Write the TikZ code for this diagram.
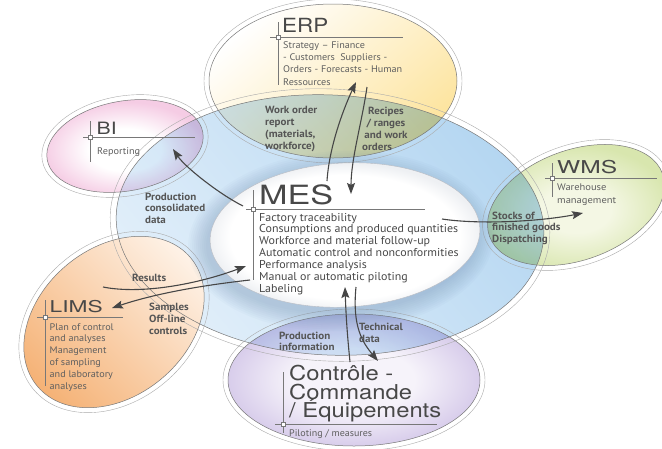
\documentclass[tikz,border=0pt]{standalone}
\usepackage{fontspec}
\usepackage{graphicx}
\setmainfont{PT Sans}
\newfontfamily\ttlfont{TeX Gyre Heros}
\usetikzlibrary{arrows.meta}
\definecolor{arr}{RGB}{70,70,70}
\definecolor{lblc}{RGB}{85,85,85}
\definecolor{txtc}{RGB}{95,95,95}
\definecolor{mestxt}{RGB}{72,72,72}
\definecolor{ttlc}{RGB}{72,72,72}
\definecolor{edgec}{RGB}{120,120,120}
\definecolor{ringc}{RGB}{170,170,170}
\definecolor{bluelt}{RGB}{226,239,250}
\definecolor{bluedk}{RGB}{180,214,241}
\definecolor{ylw}{RGB}{253,228,158}
\definecolor{pinkout}{RGB}{245,204,228}
\definecolor{grnin}{RGB}{244,247,228}
\definecolor{grnout}{RGB}{216,230,174}
\definecolor{orng}{RGB}{245,178,118}
\definecolor{orngl}{RGB}{254,242,231}
\definecolor{lavin}{RGB}{246,243,250}
\definecolor{lavout}{RGB}{216,205,235}
\definecolor{mesout}{RGB}{238,240,243}
\definecolor{shad}{RGB}{110,140,175}
\pgfdeclareradialshading{pinkshade}{\pgfpoint{0bp}{0bp}}{color(0bp)=(white); color(11bp)=(white); color(25bp)=(pinkout); color(50bp)=(pinkout)}
\pgfdeclareradialshading{grnshade}{\pgfpoint{0bp}{0bp}}{color(0bp)=(grnin); color(9bp)=(grnin); color(25bp)=(grnout); color(50bp)=(grnout)}
\pgfdeclareradialshading{lavshade}{\pgfpoint{0bp}{0bp}}{color(0bp)=(lavin); color(12bp)=(lavin); color(25bp)=(lavout); color(50bp)=(lavout)}
\pgfdeclareradialshading{messhade}{\pgfpoint{0bp}{0bp}}{color(0bp)=(white); color(21bp)=(white); color(25bp)=(mesout); color(50bp)=(mesout)}
\newcommand\mesfont{\fontsize{11.4}{12}\selectfont}
\newcommand\lblfont{\fontsize{10.4}{11}\selectfont\bfseries}
\newcommand\bodyfont{\fontsize{9.6}{11}\selectfont}
\newlength\tmpw
\AtBeginDocument{%
\settowidth\tmpw{\mesfont Consumptions and produced quantities}\pgfmathsetmacro\mesk{199/\tmpw}%
\settowidth\tmpw{\lblfont consolidated}\pgfmathsetmacro\lblk{60/\tmpw}%
\settowidth\tmpw{\bodyfont Orders - Forecasts - Human}\pgfmathsetmacro\erpk{119/\tmpw}%
\settowidth\tmpw{\bodyfont Plan of control}\pgfmathsetmacro\limsk{64/\tmpw}%
\settowidth\tmpw{\bodyfont management}\pgfmathsetmacro\wmsk{59/\tmpw}%
\settowidth\tmpw{\ttlfont\fontsize{20.5}{18}\selectfont / Équipements}\pgfmathsetmacro\cck{152/\tmpw}%
}
\begin{document}
\begin{tikzpicture}[x=1pt,y=-1pt,
  edgeline/.style={draw=edgec, line width=0.5pt},
  ringline/.style={draw=ringc, line width=0.4pt},
  flow/.style={draw=arr, line width=1.1pt, -{Stealth[length=11pt,width=8pt,inset=2pt]}},
  lbl/.style={font=\lblfont, text=lblc, inner sep=0pt, anchor=base west},
  bodytext/.style={font=\bodyfont, text=txtc, inner sep=0pt, anchor=base west},
  mesline/.style={font=\mesfont, text=mestxt, inner sep=0pt, anchor=base west},
  ttlstyle/.style={text=ttlc, inner sep=0pt, anchor=base west},
  rulestyle/.style={draw=edgec, line width=0.7pt},
  tickbox/.style={draw=edgec, fill=white, line width=0.5pt, rectangle, minimum size=4pt, inner sep=0pt}]
\useasboundingbox (0,0) rectangle (662,448);
\fill[white] (0,0) rectangle (662,448);

% ---- big blue ellipse
\path[shading=axis, top color=bluedk, bottom color=bluelt, shading angle=-50, rotate around={-3:(330,225)}]
  (330,225) ellipse [x radius=214, y radius=130];

% ---- blended satellites
\begin{scope}[blend mode=multiply]
\path[shading=axis, top color=white, bottom color=ylw, shading angle=40]
  (333,81) ellipse [x radius=124, y radius=77];
\path[shading=pinkshade, rotate around={10:(125,146)}]
  (125,146) ellipse [x radius=79, y radius=45];
\path[shading=grnshade, rotate around={20:(576,205)}]
  (576,205) ellipse [x radius=92, y radius=55];
\path[shading=lavshade]
  (354,380) ellipse [x radius=126, y radius=66];
\end{scope}
% LIMS (opaque)
\path[shading=axis, top color=orngl, bottom color=orng, shading angle=-45, rotate around={40:(114,322)}]
  (114,322) ellipse [x radius=100, y radius=74];

% ---- outlines
\path[edgeline, rotate around={-3:(330,225)}] (330,225) ellipse [x radius=214, y radius=130];
\path[ringline, rotate around={-3:(330,225)}] (330,225) ellipse [x radius=220, y radius=136];
\path[edgeline] (333,81) ellipse [x radius=124, y radius=77];
\path[ringline] (333,81) ellipse [x radius=129, y radius=82];
\path[edgeline, rotate around={10:(125,146)}] (125,146) ellipse [x radius=79, y radius=45];
\path[ringline, rotate around={10:(125,146)}] (125,146) ellipse [x radius=84, y radius=50];
\path[edgeline, rotate around={20:(576,205)}] (576,205) ellipse [x radius=92, y radius=55];
\path[ringline, rotate around={20:(576,205)}] (576,205) ellipse [x radius=97, y radius=60];
\path[edgeline, rotate around={40:(114,322)}] (114,322) ellipse [x radius=100, y radius=74];
\path[ringline, rotate around={40:(114,322)}] (114,322) ellipse [x radius=105, y radius=79];
\path[edgeline] (354,380) ellipse [x radius=126, y radius=66];
\path[ringline] (354,380) ellipse [x radius=131, y radius=71];

% ---- MES shadow and ellipse
\foreach \k in {10,...,1}
  \fill[shad, opacity=0.04, rotate around={3:(341,241)}] (341,241) ellipse [x radius=133+2*\k, y radius=70+2*\k];
\path[shading=messhade, rotate around={3:(345,235)}]
  (345,235) ellipse [x radius=135, y radius=72];
\path[draw={rgb,255:red,185;green,188;blue,195}, line width=0.4pt, rotate around={3:(345,235)}]
  (345,235) ellipse [x radius=135, y radius=72];

% ---- title rules
\draw[rulestyle] (278,22) -- (278,85);
\draw[rulestyle] (270,37) -- (403,37);
\node[tickbox] (erpsq) at (278,37) {};
\draw[rulestyle] (90,121) -- (90,162);
\draw[rulestyle] (83,137) -- (195,137);
\node[tickbox] (bisq) at (90,137) {};
\draw[rulestyle] (552,163) -- (552,197);
\draw[rulestyle] (545,178) -- (657,178);
\node[tickbox] (wmssq) at (552,178) {};
\draw[rulestyle] (45,300) -- (45,386);
\draw[rulestyle] (37,317) -- (123,317);
\node[tickbox] (limssq) at (45,317) {};
\draw[rulestyle] (253,190) -- (253,280);
\draw[rulestyle] (246,209) -- (425,209);
\node[tickbox] (messq) at (253,209) {};
\draw[rulestyle] (283,372) -- (283,433);
\draw[rulestyle] (275,424) -- (437,424);
\node[tickbox] (ccsq) at (283,424) {};

% ---- titles
\node[ttlstyle, font=\ttlfont\fontsize{19.5}{20}\selectfont] (erpt) at (282,32) {\resizebox{46pt}{\height}{ERP}};
\node[ttlstyle, font=\ttlfont\fontsize{17}{18}\selectfont] (bit) at (96.5,134) {\resizebox{20pt}{\height}{BI}};
\node[ttlstyle, font=\ttlfont\fontsize{17.7}{18}\selectfont] (wmst) at (557,173) {\resizebox{60pt}{\height}{WMS}};
\node[ttlstyle, font=\ttlfont\fontsize{16.3}{17}\selectfont] (limst) at (49.5,312) {\resizebox{53pt}{\height}{LIMS}};
\node[ttlstyle, font=\ttlfont\fontsize{26.5}{28}\selectfont] (mest) at (259,204) {\resizebox{74pt}{\height}{MES}};
\node[ttlstyle, anchor=north west, align=left, font={\ttlfont\fontsize{20.5}{18.5}\selectfont\lineskiplimit=-100pt}] (cct) at (289,365)
  {\scalebox{\cck}[1]{Contrôle -}\\\scalebox{\cck}[1]{Commande}\\\scalebox{\cck}[1]{/ Équipements}};

% ---- body texts
\foreach \t [count=\i from 0] in {Strategy – Finance, - Customers~ Suppliers -, Orders - Forecasts - Human, Ressources}
  \node[bodytext, name=erp\i] at (283,48.5+12.2*\i) {\scalebox{\erpk}[1]{\t}};
\node[bodytext] (bib) at (97,154.5) {\resizebox{43pt}{\height}{Reporting}};
\node[bodytext] (wmsb1) at (557,190.5) {\scalebox{\wmsk}[1]{Warehouse}};
\node[bodytext] (wmsb2) at (557,203.5) {\scalebox{\wmsk}[1]{management}};
\foreach \t [count=\i from 0] in {Plan of control, and analyses, Management, of sampling, and laboratory, analyses}
  \node[bodytext, name=lims\i] at (49.5,330+11.9*\i) {\scalebox{\limsk}[1]{\t}};
\node[bodytext] (ccb) at (289,436.5) {\resizebox{83pt}{\height}{Piloting / measures}};
\foreach \t [count=\i from 0] in {Factory traceability, Consumptions and produced quantities, Workforce and material follow-up, Automatic control and nonconformities, Performance analysis, Manual or automatic piloting, Labeling}
  \node[mesline, name=mes\i] at (259,221+11.9*\i) {\scalebox{\mesk}[1]{\t}};

% ---- flow labels
\foreach \t [count=\i from 0] in {Work order, report, {(materials,}, workforce)}
  \node[lbl, name=wo\i] at (265,113+12.2*\i) {\scalebox{\lblk}[1]{\t}};
\foreach \t [count=\i from 0] in {Recipes, / ranges, and work}
  \node[lbl, anchor=base, name=rc\i] at (386,114+12.2*\i) {\scalebox{\lblk}[1]{\t}};
\node[lbl] (rc3) at (362,150.6) {\scalebox{\lblk}[1]{orders}};
\foreach \t [count=\i from 0] in {Production, consolidated, data}
  \node[lbl, name=pc\i] at (145,200+11.7*\i) {\scalebox{\lblk}[1]{\t}};
\foreach \t [count=\i from 0] in {Stocks of, finished goods, Dispatching}
  \node[lbl, name=st\i] at (492,219+11.5*\i) {\scalebox{\lblk}[1]{\t}};
\node[lbl] (res) at (132,281) {\scalebox{\lblk}[1]{Results}};
\foreach \t [count=\i from 0] in {Samples, Off-line, controls}
  \node[lbl, name=sa\i] at (149,310+12*\i) {\scalebox{\lblk}[1]{\t}};
\node[lbl] (pi0) at (279,339) {\scalebox{\lblk}[1]{Production}};
\node[lbl] (pi1) at (279,350.5) {\scalebox{\lblk}[1]{information}};
\node[lbl] (td0) at (359,330) {\scalebox{\lblk}[1]{Technical}};
\node[lbl] (td1) at (359,342) {\scalebox{\lblk}[1]{data}};

% ---- connectors
\coordinate (s1) at (243,206); \coordinate (t1) at (173,149);
\coordinate (s2) at (327,181); \coordinate (t2) at (356,82);
\coordinate (s3) at (367,87);  \coordinate (t3) at (351,194);
\coordinate (s4) at (442,219); \coordinate (t4) at (583,213);
\coordinate (s5) at (103,287); \coordinate (t5) at (246,266);
\coordinate (s6) at (250,280); \coordinate (t6) at (112,308);
\coordinate (s7) at (356,287); \coordinate (t7) at (378,361);
\coordinate (s8) at (350,362); \coordinate (t8) at (345,287);
\draw[flow] (s1) .. controls +(-24,-12) and +(12,18) .. (t1);
\draw[flow] (s2) .. controls +(2,-32) and +(-14,30) .. (t2);
\draw[flow] (s3) .. controls +(-5,35) and +(0,-35) .. (t3);
\draw[flow] (s4) .. controls +(40,6) and +(-40,8) .. (t4);
\draw[flow] (s5) .. controls +(40,8) and +(-45,17) .. (t5);
\draw[flow] (s6) .. controls +(-45,5) and +(45,-15) .. (t6);
\draw[flow] (s7) .. controls +(-4,40) and +(-15,-18) .. (t7);
\draw[flow] (s8) .. controls +(-3,-30) and +(1,28) .. (t8);
\end{tikzpicture}
\end{document}
